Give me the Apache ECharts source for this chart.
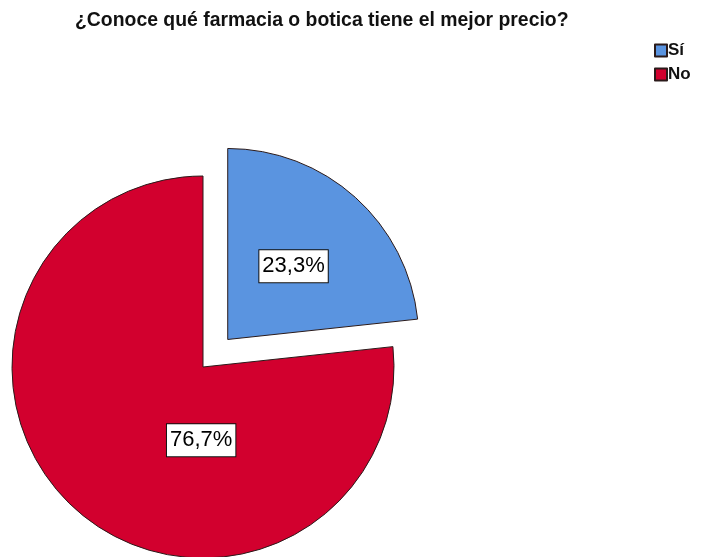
<!DOCTYPE html>
<html>
<head>
<meta charset="utf-8">
<script src="https://cdn.jsdelivr.net/npm/echarts@6/dist/echarts.min.js"></script>
<style>
  html, body { margin: 0; padding: 0; background: #fff; }
  #chart { width: 711px; height: 557px; }
</style>
</head>
<body>
<div id="chart"></div>
<script>
// Answer categories and their shares (%)
const categories = ['Sí', 'No'];
const percentages = [23.3, 76.7];
const colors = ['#5a94e0', '#d2002e'];

const chart = echarts.init(document.getElementById('chart'), null, { renderer: 'canvas' });

const fmt = v => v.toFixed(1).replace('.', ',') + '%';

chart.setOption({
  animation: false,
  backgroundColor: '#ffffff',
  title: {
    text: '¿Conoce qué farmacia o botica tiene el mejor precio?',
    left: 75,
    top: 11,
    padding: 0,
    textStyle: {
      fontFamily: 'Liberation Sans, Arial, sans-serif',
      fontSize: 19.4,
      fontWeight: 'bold',
      color: '#111'
    }
  },
  legend: {
    orient: 'vertical',
    left: 654,
    top: 42,
    padding: 0,
    itemWidth: 12,
    itemHeight: 12,
    itemGap: 7,
    icon: 'rect',
    selectedMode: false,
    data: categories,
    textStyle: {
      fontFamily: 'Liberation Sans, Arial, sans-serif',
      fontSize: 17,
      fontWeight: 'bold',
      color: '#111',
      padding: [0, 0, 0, -4]
    }
  },
  series: [{
    type: 'pie',
    center: [203, 367],
    radius: 191,
    startAngle: 90,
    clockwise: true,
    selectedMode: 'single',
    selectedOffset: 37,
    emphasis: { disabled: true },
    itemStyle: { borderColor: '#2a1a1a', borderWidth: 1 },
    label: {
      show: true,
      position: 'inside',
      formatter: p => fmt(p.value),
      fontFamily: 'Liberation Sans, Arial, sans-serif',
      fontSize: 22,
      color: '#000',
      backgroundColor: '#ffffff',
      borderColor: '#111',
      borderWidth: 1,
      padding: [6, 3, 4, 3]
    },
    labelLine: { show: false },
    labelLayout: function (params) {
      // the large slice's label sits straight below the pie centre
      if (params.dataIndex === 1) {
        return { dx: 64 };
      }
      return {};
    },
    data: categories.map((name, i) => ({
      name: name,
      value: percentages[i],
      selected: i === 0,
      itemStyle: { color: colors[i] }
    }))
  }]
});
</script>
</body>
</html>
